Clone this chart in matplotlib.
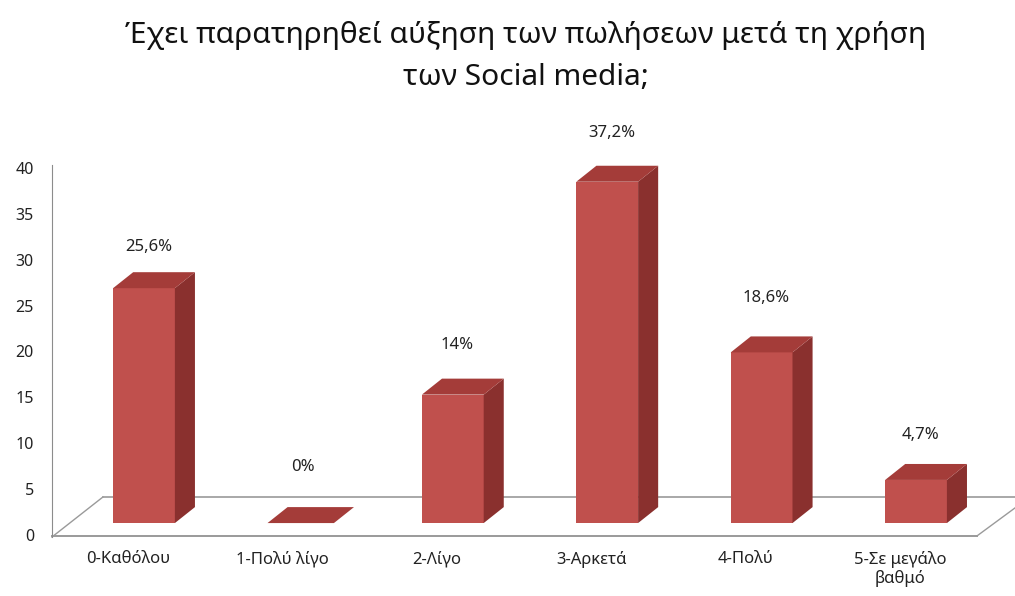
import matplotlib.pyplot as plt
import numpy as np
from matplotlib.patches import Polygon

# ---------- data ----------
categories = ['0-Καθόλου', '1-Πολύ λίγο', '2-Λίγο', '3-Αρκετά', '4-Πολύ', '5-Σε μεγάλο\nβαθμό']
percent = [25.6, 0, 14, 37.2, 18.6, 4.7]
yticks = [0, 5, 10, 15, 20, 25, 30, 35, 40]
title_lines = ['Έχει παρατηρηθεί αύξηση των πωλήσεων μετά τη χρήση',
               'των Social media;']

# ---------- style ----------
front_col = '#c0504d'
side_col = '#8a302e'
top_col = '#a43c39'
grid_col = '#9a9a9a'
bar_w = 0.40
depth_x, depth_y = 0.13, 1.74      # fake 3D depth offset
base = 1.3                          # bars stand slightly above the floor front edge
label_lift = [5.8, 7.4, 6.7, 6.6, 7.2, 6.2]

plt.rcParams['font.family'] = ['Noto Sans', 'DejaVu Sans']

fig = plt.figure(figsize=(10.15, 5.96), dpi=100)
ax = fig.add_axes([0.0512, 0.099, 0.9488, 0.6326])
ax.set_xlim(-0.596, 5.641)
ax.set_ylim(-0.218, 40.87)

x = np.arange(len(percent))

# floor of the 3D box
floor_back = 4.14
ax.plot([-0.596, -0.266], [-0.218, floor_back], color=grid_col, lw=1, zorder=1, clip_on=False)
ax.plot([-0.266, 5.75], [floor_back, floor_back], color=grid_col, lw=1.2, zorder=1, clip_on=False)
ax.plot([-0.596, 5.395], [-0.1, -0.1], color=grid_col, lw=1.4, zorder=1, clip_on=False)
ax.plot([5.395, 5.75], [-0.1, 4.3], color=grid_col, lw=1, zorder=1, clip_on=False)

# front faces
ax.bar(x, percent, width=bar_w, bottom=base, color=front_col, zorder=3)

for xi, v in zip(x, percent):
    l, r = xi - bar_w / 2, xi + bar_w / 2
    top = base + v
    if v > 0:
        side = Polygon([(r, base), (r + depth_x, base + depth_y),
                        (r + depth_x, top + depth_y), (r, top)],
                       closed=True, facecolor=side_col, edgecolor='none', zorder=3)
        ax.add_patch(side)
    else:
        # flat bar: lid drawn a little deeper
        r = r + 0.03
    lid = Polygon([(l, top), (l + depth_x, top + depth_y),
                   (r + depth_x, top + depth_y), (r, top)],
                  closed=True, facecolor=top_col, edgecolor='none', zorder=3)
    ax.add_patch(lid)

# value labels
for xi, v, lift in zip(x, percent, label_lift):
    txt = f'{v:g}'.replace('.', ',') + '%'
    ax.text(xi + 0.03, v + lift, txt, ha='center', va='center',
            fontsize=12, color='#222222', clip_on=False)

# axes
for s in ['top', 'right', 'bottom']:
    ax.spines[s].set_visible(False)
ax.spines['left'].set_color('#8c8c8c')
ax.spines['left'].set_bounds(-0.218, 40.3)
ax.set_yticks(yticks)
ax.set_yticklabels([str(t) for t in yticks])
ax.tick_params(axis='y', length=0, pad=13, labelsize=11.5, labelcolor='#222222')
ax.set_xticks(x - 0.104)
ax.set_xticklabels(categories)
ax.tick_params(axis='x', length=0, pad=10, labelsize=12, labelcolor='#222222')

# two-line title
fig.text(0.518, 1 - 43 / 596, title_lines[0], ha='center', va='baseline',
         fontsize=21.5, color='#111111')
fig.text(0.518, 1 - 85 / 596, title_lines[1], ha='center', va='baseline',
         fontsize=21.5, color='#111111')

fig.savefig('out.png', dpi=100, facecolor='white')
